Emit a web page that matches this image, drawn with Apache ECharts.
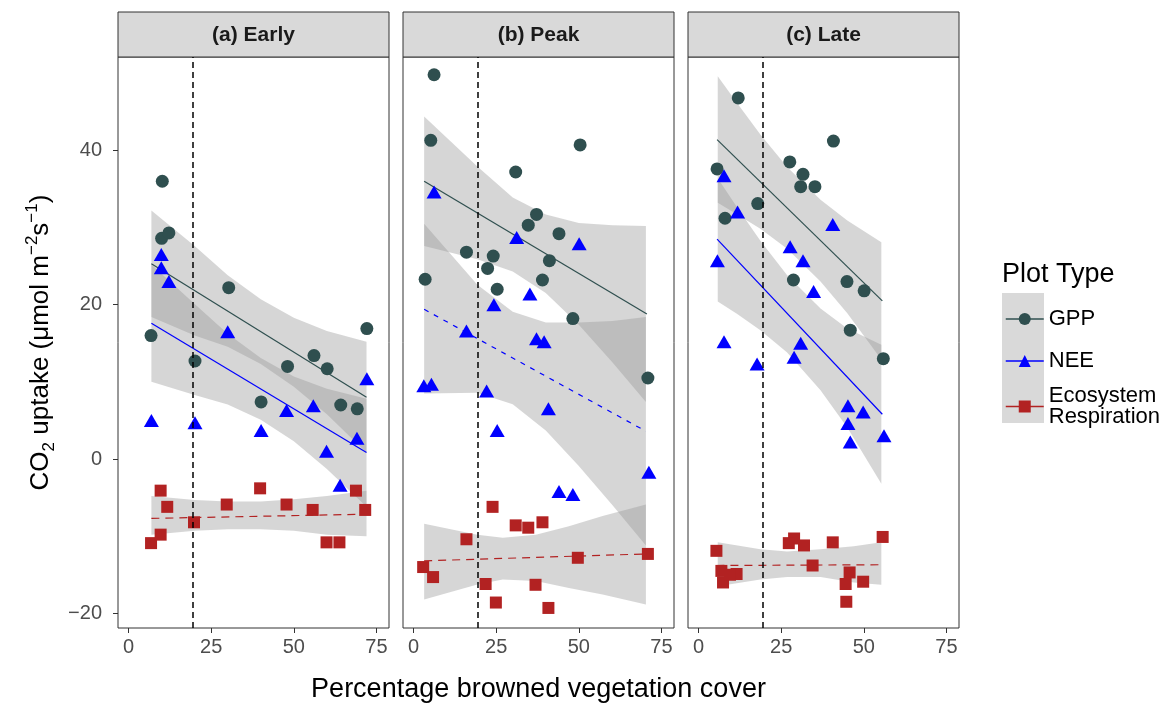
<!DOCTYPE html>
<html><head><meta charset="utf-8">
<script src="https://cdn.jsdelivr.net/npm/echarts@6/dist/echarts.min.js"></script>
<style>html,body{margin:0;padding:0;background:#fff}#c{width:1175px;height:711px}</style>
</head><body><div id="c"></div>
<script>
// ---------------- data ----------------
const panelTitles = ['(a) Early', '(b) Peak', '(c) Late'];
const xTicks = [0, 25, 50, 75];
const yTicks = [-20, 0, 20, 40];
const seriesNames = ['GPP', 'NEE', 'Ecosystem Respiration'];
const brownThreshold = 19.5;

// points [x, y]
const gppEarly = [[6.8,16.0],[10.2,36.0],[10.0,28.6],[12.2,29.3],[20.1,12.7],[30.3,22.2],[40.1,7.4],[48.1,12.0],[56.1,13.4],[60.1,11.7],[64.2,7.0],[69.2,6.5],[72.1,16.9]];
const neeEarly = [[9.9,26.5],[9.9,24.8],[12.2,23.0],[6.9,5.0],[20.1,4.7],[30.0,16.5],[40.1,3.7],[47.8,6.3],[55.9,6.9],[59.9,1.0],[64.0,-3.4],[69.1,2.7],[72.1,10.4]];
const erEarly  = [[9.7,-4.1],[11.7,-6.2],[6.8,-10.9],[9.7,-9.8],[19.8,-8.2],[29.7,-5.9],[39.8,-3.8],[47.8,-5.9],[55.7,-6.6],[59.9,-10.8],[63.8,-10.8],[68.8,-4.1],[71.6,-6.6]];

const gppPeak = [[6.2,49.8],[5.2,41.3],[50.4,40.7],[30.9,37.2],[37.2,31.7],[34.7,30.3],[44.0,29.2],[16.0,26.8],[24.1,26.3],[22.4,24.7],[41.1,25.7],[3.5,23.3],[39.0,23.2],[25.3,22.0],[48.2,18.2],[70.9,10.5]];
const neePeak = [[6.2,34.6],[31.2,28.7],[50.1,27.9],[35.2,21.4],[24.3,20.0],[16.0,16.6],[37.2,15.6],[39.5,15.2],[3.1,9.5],[5.4,9.7],[22.1,8.8],[40.8,6.5],[25.3,3.7],[71.2,-1.7],[44.0,-4.2],[48.2,-4.6]];
const erPeak  = [[23.9,-6.2],[30.9,-8.6],[34.7,-8.9],[39.0,-8.2],[16.0,-10.4],[2.9,-14.0],[5.9,-15.3],[49.7,-12.8],[70.9,-12.3],[21.8,-16.2],[36.9,-16.3],[24.9,-18.6],[40.8,-19.3]];

const gppLate = [[12.0,46.8],[40.8,41.2],[5.6,37.6],[27.6,38.5],[31.6,36.9],[30.9,35.3],[35.2,35.3],[17.9,33.1],[8.0,31.2],[28.7,23.2],[44.9,23.0],[50.1,21.8],[45.9,16.7],[55.9,13.0]];
const neeLate = [[7.7,36.7],[40.6,30.4],[11.8,32.0],[27.7,27.5],[31.6,25.7],[5.7,25.7],[34.8,21.7],[7.7,15.2],[17.7,12.3],[30.9,15.0],[28.9,13.2],[45.2,6.9],[49.8,6.1],[45.2,4.6],[45.9,2.2],[56.1,3.0]];
const erLate  = [[55.7,-10.1],[28.9,-10.3],[27.3,-10.9],[31.9,-11.2],[40.6,-10.8],[5.4,-11.9],[34.5,-13.8],[6.9,-14.5],[7.4,-16.0],[11.5,-14.9],[9.5,-15.0],[45.7,-14.7],[44.5,-16.2],[49.8,-15.9],[44.7,-18.5]];

// fitted lines [[x0,y0],[x1,y1]]
const gppFitEarly = [[6.9,25.3],[72.0,8.0]];
const neeFitEarly = [[6.9,17.6],[72.0,0.85]];
const erFitEarly  = [[6.9,-7.7],[72.0,-7.15]];
const gppFitPeak  = [[3.2,36.0],[70.6,18.8]];
const neeFitPeak  = [[3.2,19.4],[70.3,3.6]];
const erFitPeak   = [[3.2,-13.2],[70.6,-12.3]];
const gppFitLate  = [[5.6,41.4],[55.6,20.5]];
const neeFitLate  = [[5.6,28.5],[55.6,5.8]];
const erFitLate   = [[5.4,-13.8],[55.7,-13.7]];

// confidence bands [x, lower, upper]
const gppBandEarly = [[6.9,18.4,32.2],[20,16.0,27.6],[30,14.55,23.8],[40,12.3,20.7],[50,9.35,18.3],[60,5.8,16.6],[72,0.8,15.2]];
const neeBandEarly = [[6.9,10.0,25.2],[20,8.3,20.1],[30,7.05,16.25],[40,5.1,13.1],[50,2.3,10.7],[60,-1.3,9.1],[72,-6.2,7.8]];
const erBandEarly  = [[6.9,-9.8,-4.8],[20,-9.3,-5.3],[30,-9.1,-5.5],[40,-9.1,-5.5],[50,-9.3,-5.2],[60,-9.8,-4.8],[72,-10.0,-4.1]];
const gppBandPeak  = [[3.2,27.6,44.4],[19.3,25.9,37.9],[30,24.3,33.9],[40,21.5,31.7],[50,17.4,30.6],[60.2,12.5,30.3],[70.3,7.4,30.2]];
const neeBandPeak  = [[3.2,8.5,30.5],[19.3,8.6,22.6],[30,7.1,19.1],[40,3.7,17.7],[50,-0.9,17.7],[60.2,-6.0,17.9],[70.3,-11.2,18.4]];
const erBandPeak   = [[3.2,-18.2,-8.4],[19.3,-16.25,-9.8],[27,-15.6,-10.2],[37,-15.8,-9.8],[47,-16.7,-8.7],[57.2,-17.55,-7.4],[70.3,-18.85,-5.9]];
const gppBandLate  = [[5.8,33.2,49.6],[11.7,31.7,46.1],[18.7,29.85,42.05],[26.8,27.25,37.85],[36.9,23.0,33.6],[45.0,18.9,30.9],[55.3,12.9,28.1]];
const neeBandLate  = [[5.8,20.4,36.4],[11.7,18.8,32.6],[18.7,16.7,28.3],[26.8,13.8,23.8],[36.9,8.9,19.5],[45.0,4.1,16.9],[55.3,-3.2,14.8]];
const erBandLate   = [[5.8,-16.5,-10.8],[18.7,-15.6,-11.7],[26.8,-15.3,-12.0],[36.9,-15.3,-11.7],[47.0,-16.0,-11.3],[55.3,-16.3,-10.8]];

// ---------------- layout / style ----------------
const FONT = '"Liberation Sans", Arial, sans-serif';
const colors = ['#2F4F4F', '#0000FF', '#B22222'];
const symbols = ['circle', 'triangle', 'rect'];
const symbolSizes = [13, [15, 13], 12];
const gridLefts = [118, 403, 688];
const GW = 271, GT = 57, GH = 571;
const X_MIN = -3.2, X_MAX = 78.8, Y_MIN = -21.9, Y_MAX = 52.1;

const pointSets = [[gppEarly, neeEarly, erEarly], [gppPeak, neePeak, erPeak], [gppLate, neeLate, erLate]];
const fitSets = [[gppFitEarly, neeFitEarly, erFitEarly], [gppFitPeak, neeFitPeak, erFitPeak], [gppFitLate, neeFitLate, erFitLate]];
const bandSets = [[gppBandEarly, neeBandEarly, erBandEarly], [gppBandPeak, neeBandPeak, erBandPeak], [gppBandLate, neeBandLate, erBandLate]];
const fitDash = [['solid', 'solid', [8, 6]], ['solid', [5, 6], [8, 6]], ['solid', 'solid', [8, 6]]];

const grids = gridLefts.map(l => ({left: l, top: GT, width: GW, height: GH, show: true, borderColor: '#333333', borderWidth: 1, backgroundColor: 'rgba(0,0,0,0)'}));

const xAxes = gridLefts.map((l, i) => ({
  type: 'value', gridIndex: i, min: X_MIN, max: X_MAX,
  axisLine: {show: false, onZero: false}, splitLine: {show: false},
  axisTick: {show: true, length: 5, customValues: xTicks, lineStyle: {color: '#333333', width: 1}},
  axisLabel: {show: true, customValues: xTicks, color: '#4D4D4D', fontSize: 20, fontFamily: FONT, margin: 9},
  name: i === 1 ? 'Percentage browned vegetation cover' : '',
  nameLocation: 'middle', nameGap: 48,
  nameTextStyle: {fontSize: 27, color: '#000', fontFamily: FONT}
}));

const yAxes = gridLefts.map((l, i) => ({
  type: 'value', gridIndex: i, min: Y_MIN, max: Y_MAX,
  axisLine: {show: false, onZero: false}, splitLine: {show: false},
  axisTick: {show: i === 0, length: 5, customValues: yTicks, lineStyle: {color: '#333333', width: 1}},
  axisLabel: {show: i === 0, customValues: yTicks, color: '#4D4D4D', fontSize: 20, fontFamily: FONT, margin: 16,
    formatter: v => String(v).replace('-', '\u2212')},
  name: i === 0 ? '{a|CO}{b|2}{a| uptake (μmol m}{c|−2}{a|s}{c|−1}{a|)}' : '',
  nameLocation: 'middle', nameRotate: 90, nameGap: 60,
  nameTextStyle: {rich: {
    a: {fontSize: 26, color: '#000', fontFamily: FONT, lineHeight: 34},
    b: {fontSize: 17, color: '#000', fontFamily: FONT, lineHeight: 16, verticalAlign: 'bottom'},
    c: {fontSize: 17, color: '#000', fontFamily: FONT, lineHeight: 16, verticalAlign: 'top'}
  }}
}));

const series = [];
// fitted lines first (so legend icons show line + symbol)
fitSets.forEach((fits, i) => {
  fits.forEach((fit, k) => {
    series.push({
      type: 'line', name: seriesNames[k], xAxisIndex: i, yAxisIndex: i, data: fit,
      symbol: symbols[k], showSymbol: false, silent: true, z: 3,
      itemStyle: {color: colors[k]},
      lineStyle: {color: colors[k], width: 1.2, type: fitDash[i][k]}
    });
  });
});
bandSets.forEach((bands, i) => {
  bands.forEach((band, k) => {
    series.push({
      type: 'custom', name: seriesNames[k] + ' CI ' + i, xAxisIndex: i, yAxisIndex: i,
      data: band, encode: {x: 0, y: [1, 2]}, silent: true, z: 2,
      renderItem: (params, api) => {
        if (params.dataIndex !== 0) return;
        const up = band.map(d => api.coord([d[0], d[2]]));
        const lo = band.slice().reverse().map(d => api.coord([d[0], d[1]]));
        return {type: 'polygon', shape: {points: up.concat(lo)}, style: {fill: 'rgba(153,153,153,0.4)'}};
      }
    });
  });
});
pointSets.forEach((pts, i) => {
  pts.forEach((p, k) => {
    const s = {
      type: 'scatter', name: seriesNames[k], xAxisIndex: i, yAxisIndex: i, data: p,
      symbol: symbols[k], symbolSize: symbolSizes[k], z: 4, silent: true,
      itemStyle: {color: colors[k], opacity: 1}
    };
    if (k === 0) {
      s.markLine = {silent: true, symbol: ['none', 'none'], label: {show: false}, animation: false,
        lineStyle: {color: '#000', type: [6, 4], width: 1.5}, data: [{xAxis: brownThreshold}]};
    }
    series.push(s);
  });
});

const graphic = [];
gridLefts.forEach((l, i) => {
  graphic.push({type: 'rect', shape: {x: l, y: 12, width: GW, height: GT - 12}, style: {fill: '#D9D9D9', stroke: '#333333', lineWidth: 1}, z: 1});
  graphic.push({type: 'text', x: l + GW / 2, y: 12 + (GT - 12) / 2 + 1, style: {text: panelTitles[i], fill: '#1A1A1A', font: 'bold 21px ' + FONT, align: 'center', verticalAlign: 'middle'}, z: 2});
});
graphic.push({type: 'rect', shape: {x: 1002, y: 293, width: 42, height: 130}, style: {fill: '#D9D9D9'}, z: 0});
graphic.push({type: 'text', x: 1002, y: 275, style: {text: 'Plot Type', fill: '#000', font: '27px ' + FONT, align: 'left', verticalAlign: 'middle'}, z: 2});

const legendCommon = {orient: 'vertical', left: 1005, itemWidth: 38, itemHeight: 15, padding: 0, selectedMode: false, z: 10};
const option = {
  animation: false,
  backgroundColor: '#ffffff',
  grid: grids, xAxis: xAxes, yAxis: yAxes, series: series, graphic: graphic,
  legend: [
    Object.assign({}, legendCommon, {top: 308, itemGap: 20,
      data: [{name: seriesNames[0], lineStyle: {type: 'solid', width: 1.5}}, {name: seriesNames[1], lineStyle: {type: 'solid', width: 1.5}}],
      textStyle: {fontSize: 22, color: '#000', fontFamily: FONT, lineHeight: 22}}),
    Object.assign({}, legendCommon, {top: 385,
      data: [{name: seriesNames[2], lineStyle: {type: 'solid', width: 1.5}}],
      formatter: n => n.replace(' ', '\n'),
      textStyle: {fontSize: 22, color: '#000', fontFamily: FONT, lineHeight: 21}})
  ]
};
const chart = echarts.init(document.getElementById('c'));
chart.setOption(option);
</script></body></html>
